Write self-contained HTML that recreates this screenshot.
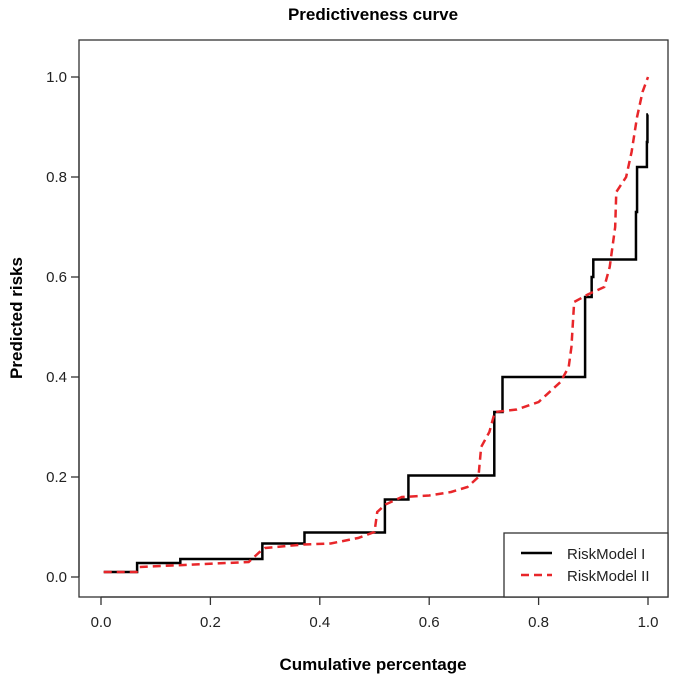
<!DOCTYPE html>
<html><head><meta charset="utf-8"><style>
body{margin:0;background:#fff;}
svg{display:block;font-family:"Liberation Sans",Arial,sans-serif;}
</style></head><body>
<svg id="chart" width="677" height="684">
<text x="373" y="20" text-anchor="middle" font-size="17" font-weight="bold">Predictiveness curve</text>
<rect x="79" y="40" width="589" height="557" fill="none" stroke="#333" stroke-width="1.3"/>
<g id="xaxis"></g>
<g id="yaxis"></g>
<text x="373" y="670" text-anchor="middle" font-size="17" font-weight="bold">Cumulative percentage</text>
<text transform="translate(22,318) rotate(-90)" text-anchor="middle" font-size="17" font-weight="bold">Predicted risks</text>
<g id="series"></g>
<g>
<rect x="504" y="533" width="164" height="64" fill="#fff" stroke="#333" stroke-width="1.3"/>
<line x1="521" y1="553" x2="552" y2="553" stroke="#000" stroke-width="2.5"/>
<text x="567" y="559" font-size="15" fill="#222">RiskModel I</text>
<line x1="521" y1="575" x2="552" y2="575" stroke="#e8262a" stroke-width="2.5" stroke-dasharray="8,5"/>
<text x="567" y="581" font-size="15" fill="#222">RiskModel II</text>
</g>
</svg>
<script>
const xTicks=[0,0.2,0.4,0.6,0.8,1.0];
const xTickLabels=["0.0","0.2","0.4","0.6","0.8","1.0"];
const yTicks=[0,0.2,0.4,0.6,0.8,1.0];
const yTickLabels=["0.0","0.2","0.4","0.6","0.8","1.0"];
const model1X=[0.005,0.066,0.145,0.295,0.372,0.519,0.562,0.719,0.734,0.885,0.897,0.900,0.978,0.980,0.998,0.999];
const model1Y=[0.01,0.028,0.036,0.067,0.089,0.155,0.203,0.33,0.40,0.56,0.60,0.635,0.73,0.82,0.87,0.925];
const model2X=[0.005,0.065,0.07,0.13,0.27,0.29,0.30,0.37,0.42,0.47,0.50,0.505,0.52,0.55,0.60,0.64,0.67,0.69,0.695,0.71,0.72,0.76,0.80,0.84,0.855,0.86,0.865,0.89,0.92,0.93,0.94,0.942,0.96,0.97,0.98,0.99,1.0];
const model2Y=[0.01,0.01,0.02,0.023,0.03,0.05,0.058,0.065,0.067,0.078,0.09,0.13,0.145,0.16,0.163,0.17,0.18,0.2,0.26,0.29,0.33,0.335,0.35,0.39,0.42,0.46,0.55,0.565,0.58,0.62,0.70,0.77,0.80,0.85,0.92,0.97,1.0];
const NS="http://www.w3.org/2000/svg";
function sx(v){return 101+v*547;}
function sy(v){return 577-v*500;}
function mk(tag,attrs,parent){const e=document.createElementNS(NS,tag);for(const k in attrs)e.setAttribute(k,attrs[k]);parent.appendChild(e);return e;}
const xa=document.getElementById('xaxis'),ya=document.getElementById('yaxis'),se=document.getElementById('series');
mk('line',{x1:sx(xTicks[0]),y1:597,x2:sx(xTicks[xTicks.length-1]),y2:597,stroke:'#333','stroke-width':1.3},xa);
xTicks.forEach((t,i)=>{
 const l=mk('line',{x1:sx(t),y1:597,x2:sx(t),y2:605,stroke:'#333','stroke-width':1.3},xa);
 
 
 const tx=mk('text',{x:sx(t),y:627,'text-anchor':'middle','font-size':15,fill:'#222'},xa);
 tx.textContent=xTickLabels[i];
 
 
});
mk('line',{x1:79,y1:sy(yTicks[0]),x2:79,y2:sy(yTicks[yTicks.length-1]),stroke:'#333','stroke-width':1.3},ya);
yTicks.forEach((t,i)=>{
 const l=mk('line',{x1:71,y1:sy(t),x2:79,y2:sy(t),stroke:'#333','stroke-width':1.3},ya);
 
 
 const tx=mk('text',{x:67,y:sy(t)+5,'text-anchor':'end','font-size':15,fill:'#222'},ya);
 tx.textContent=yTickLabels[i];
 
 
});
let d1='';
model1X.forEach((x,i)=>{
 if(i===0)d1+='M'+sx(x)+','+sy(model1Y[0]);
 else d1+=' H'+sx(x)+' V'+sy(model1Y[i]);
});
d1+=' H'+sx(1.0);
const p1=mk('path',{d:d1,fill:'none',stroke:'#000','stroke-width':2.5},se);


const d2=model2X.map((x,i)=>(i?'L':'M')+sx(x)+','+sy(model2Y[i])).join(' ');
const p2=mk('path',{d:d2,fill:'none',stroke:'#e8262a','stroke-width':2.5,'stroke-dasharray':'8,5'},se);


</script>
</body></html>
